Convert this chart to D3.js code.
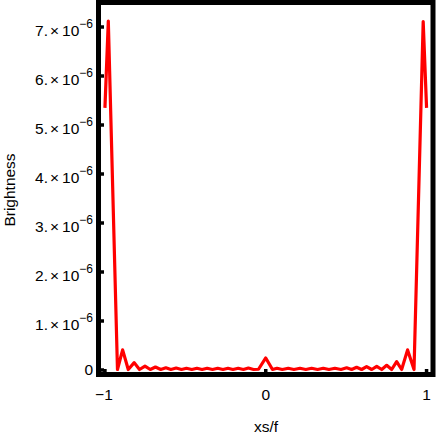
<html>
<head>
  <meta charset="utf-8">
  <script src="https://d3js.org/d3.v7.min.js"></script>
  <style>
    body { margin: 0; background: white; }
    text { font-family: "Liberation Sans", Arial, sans-serif; fill: black; }
  </style>
</head>
<body>
  <div id="chart"></div>
  <script>
    // values, brightness in units of 1e-6
    var xs = [-1.000, -0.979, -0.922, -0.890, -0.855, -0.818, -0.785, -0.751, -0.718, -0.686,
      -0.653, -0.621, -0.590, -0.557, -0.524, -0.493, -0.460, -0.428, -0.396, -0.364,
      -0.331, -0.299, -0.266, -0.235, -0.204, -0.171, -0.139, -0.108, -0.076, -0.045,
      0.000, 0.042, 0.070, 0.103, 0.140, 0.175, 0.213, 0.249, 0.285, 0.322,
      0.358, 0.393, 0.430, 0.468, 0.503, 0.534, 0.565, 0.596, 0.627, 0.659,
      0.690, 0.721, 0.752, 0.783, 0.814, 0.845, 0.882, 0.922, 0.979, 1.000];
    var brightness = [5.35, 7.12, 0.01, 0.41, 0.01, 0.15, 0.01, 0.08, 0.01, 0.06,
      0.01, 0.045, 0.01, 0.04, 0.01, 0.035, 0.01, 0.035, 0.01, 0.035,
      0.01, 0.035, 0.01, 0.035, 0.01, 0.035, 0.01, 0.04, 0.01, 0.015,
      0.245, 0.01, 0.035, 0.01, 0.035, 0.01, 0.035, 0.01, 0.035, 0.01,
      0.035, 0.01, 0.035, 0.01, 0.045, 0.01, 0.055, 0.01, 0.07, 0.01,
      0.075, 0.01, 0.095, 0.01, 0.17, 0.01, 0.41, 0.01, 7.11, 5.35];

    var xTicks = [-1, 0, 1];
    var yTicks = [0, 1, 2, 3, 4, 5, 6, 7];
    var yExponent = "\u22126";
    var xTitle = "xs/f", yTitle = "Brightness";

    var width = 436, height = 436;
    var frameLeft = 98.5, frameRight = 433, frameTop = 2.5, frameBottom = 374.5;

    var x = d3.scaleLinear().domain([-1.04, 1.04]).range([frameLeft, frameRight]);
    var y = d3.scaleLinear().domain([-0.092, 7.5]).range([frameBottom, frameTop]);

    var svg = d3.select("#chart").append("svg")
      .attr("width", width)
      .attr("height", height);

    var line = d3.line()
      .x(function (d, i) { return x(xs[i]); })
      .y(function (d) { return y(d); });

    svg.append("path")
      .datum(brightness)
      .attr("d", line)
      .attr("fill", "none")
      .attr("stroke", "#ff0000")
      .attr("stroke-width", 3.2)
      .attr("stroke-linejoin", "round");

    // frame
    svg.append("rect")
      .attr("x", frameLeft).attr("y", frameTop)
      .attr("width", frameRight - frameLeft).attr("height", frameBottom - frameTop)
      .attr("fill", "none")
      .attr("stroke", "black")
      .attr("stroke-width", 5);

    // ticks point inward
    svg.selectAll(".ytick").data(yTicks).enter().append("line")
      .attr("x1", frameLeft).attr("x2", frameLeft + 5.5)
      .attr("y1", function (d) { return y(d); })
      .attr("y2", function (d) { return y(d); })
      .attr("stroke", "black").attr("stroke-width", 3.5);

    svg.selectAll(".xtick").data(xTicks).enter().append("line")
      .attr("y1", frameBottom).attr("y2", frameBottom - 5.5)
      .attr("x1", function (d) { return x(d); })
      .attr("x2", function (d) { return x(d); })
      .attr("stroke", "black").attr("stroke-width", 3.5);

    // y labels like 7.×10^-6
    yTicks.forEach(function (d) {
      var t = svg.append("text")
        .attr("x", 93)
        .attr("text-anchor", "end")
        .attr("font-size", 15.5);
      if (d === 0) {
        t.attr("y", y(d) + 5.5).text("0");
        return;
      }
      t.attr("y", y(d) + 9);
      t.append("tspan").text(d + ".");
      t.append("tspan").attr("dx", 2).text("\u00d7");
      t.append("tspan").attr("dx", 3).text("10");
      t.append("tspan").attr("dy", -7.5).attr("font-size", 12).text(yExponent);
    });

    svg.selectAll(".xlabel").data(xTicks).enter().append("text")
      .attr("x", function (d) { return d < 0 ? x(d) - 1 : x(d); })
      .attr("y", 400)
      .attr("text-anchor", "middle")
      .attr("font-size", 15.5)
      .text(function (d) { return d < 0 ? "\u2212" + Math.abs(d) : d; });

    svg.append("text")
      .attr("x", 266).attr("y", 432)
      .attr("text-anchor", "middle")
      .attr("font-size", 15.5)
      .text(xTitle);

    svg.append("text")
      .attr("transform", "translate(14.5,190) rotate(-90)")
      .attr("text-anchor", "middle")
      .attr("font-size", 15.5)
      .text(yTitle);
  </script>
</body>
</html>
